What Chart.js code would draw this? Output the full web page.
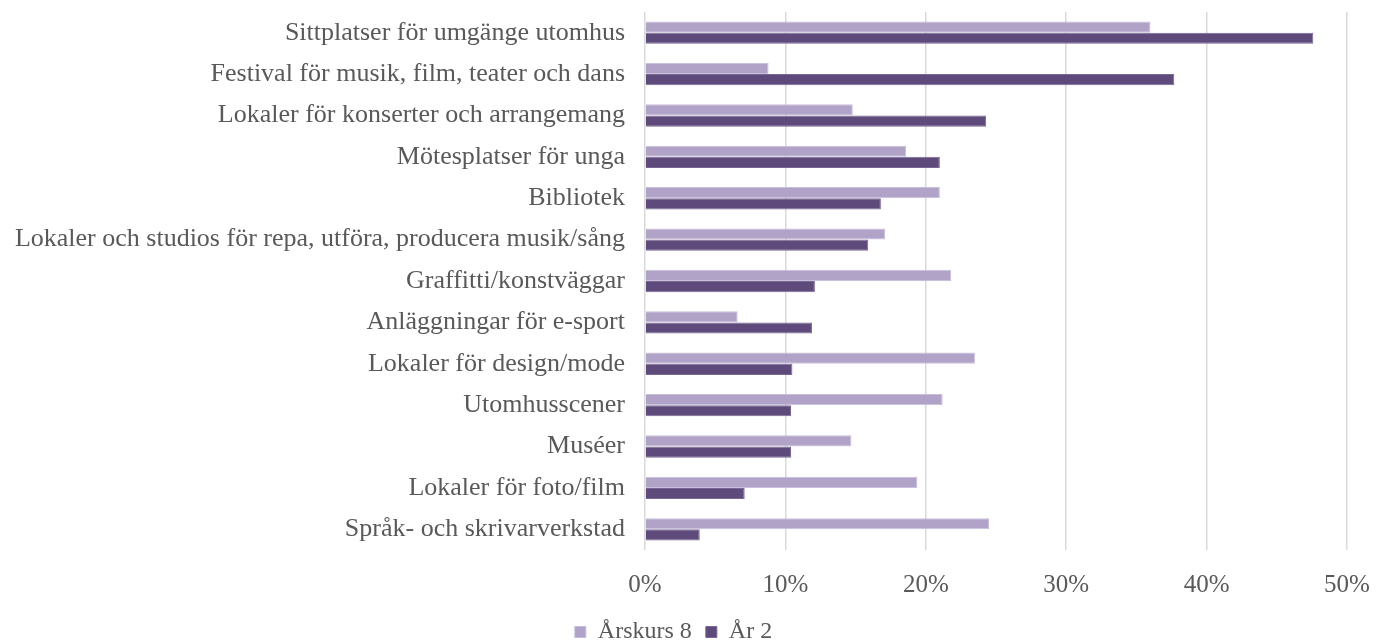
<!DOCTYPE html>
<html>
<head>
<meta charset="utf-8">
<script src="https://cdn.jsdelivr.net/npm/chart.js@4"></script>
<style>
  html, body { margin: 0; padding: 0; background: #fff; }
  #wrap { width: 1378px; height: 643px; }
</style>
</head>
<body>
<div id="wrap"><canvas id="chart"></canvas></div>
<script>
const categories = [
  "Sittplatser för umgänge utomhus",
  "Festival för musik, film, teater och dans",
  "Lokaler för konserter och arrangemang",
  "Mötesplatser för unga",
  "Bibliotek",
  "Lokaler och studios för repa, utföra, producera musik/sång",
  "Graffitti/konstväggar",
  "Anläggningar för e-sport",
  "Lokaler för design/mode",
  "Utomhusscener",
  "Muséer",
  "Lokaler för foto/film",
  "Språk- och skrivarverkstad"
];
const arskurs8 = [36.0, 8.8, 14.8, 18.6, 21.0, 17.1, 21.8, 6.6, 23.5, 21.2, 14.7, 19.4, 24.5];
const ar2 = [47.6, 37.7, 24.3, 21.0, 16.8, 15.9, 12.1, 11.9, 10.5, 10.4, 10.4, 7.1, 3.9];
const xTicks = [0, 10, 20, 30, 40, 50];

const textColor = "#595959";
const fontFamily = "'Liberation Serif', 'DejaVu Serif', serif";

new Chart(document.getElementById("chart"), {
  type: "bar",
  data: {
    labels: categories,
    datasets: [
      {
        label: "Årskurs 8",
        data: arskurs8,
        backgroundColor: "#b1a2c8",
        borderColor: "#c9bedb",
        borderWidth: 1,
        categoryPercentage: 0.54,
        barPercentage: 1.0,
      },
      {
        label: "År 2",
        data: ar2,
        backgroundColor: "#5f4b7b",
        borderColor: "#7a6894",
        borderWidth: 1,
        categoryPercentage: 0.54,
        barPercentage: 1.0,
      },
    ],
  },
  options: {
    indexAxis: "y",
    responsive: true,
    maintainAspectRatio: false,
    animation: false,
    layout: {
      padding: { top: 12, right: 31, left: 0, bottom: -11 },
    },
    plugins: {
      legend: {
        position: "bottom",
        labels: {
          color: textColor,
          font: { family: fontFamily, size: 24, lineHeight: 1 },
          boxWidth: 11,
          boxHeight: 11,
          padding: 14,
        },
      },
      tooltip: { enabled: false },
    },
    scales: {
      x: {
        min: 0,
        max: 50,
        afterBuildTicks: (axis) => {
          axis.ticks = xTicks.map((v) => ({ value: v }));
        },
        afterFit: (axis) => {
          axis.height = 56;
          axis.paddingLeft = 0;
          axis.paddingRight = 0;
        },
        grid: { color: "#d9d9d9", lineWidth: 1.5, drawTicks: false },
        border: { display: false },
        ticks: {
          color: textColor,
          font: { family: fontFamily, size: 25 },
          padding: 20,
          callback: (v) => v + "%",
        },
      },
      y: {
        afterFit: (axis) => {
          axis.width = 645;
          axis.paddingTop = 0;
          axis.paddingBottom = 0;
        },
        grid: { display: false, drawTicks: false },
        border: { display: false },
        ticks: {
          color: textColor,
          font: { family: fontFamily, size: 26 },
          padding: 20,
          autoSkip: false,
        },
      },
    },
  },
});
</script>
</body>
</html>
